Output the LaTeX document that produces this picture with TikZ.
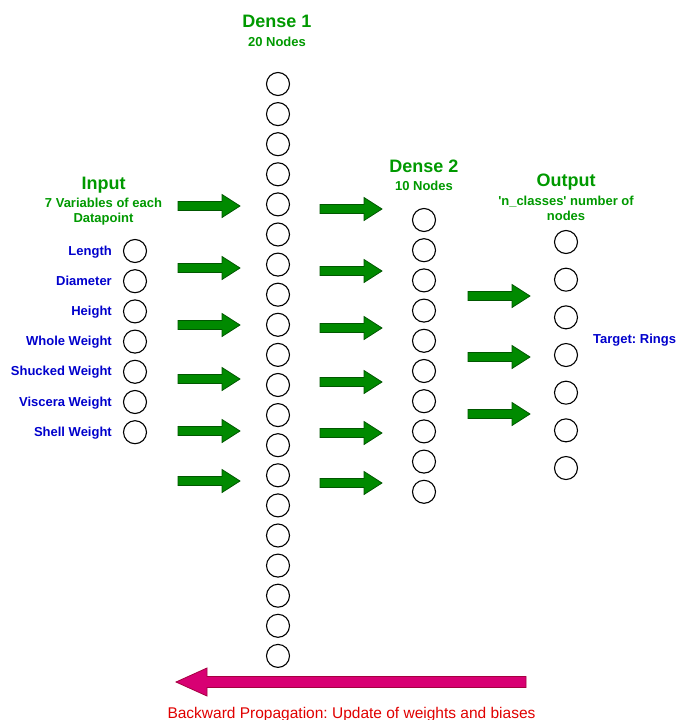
\documentclass[tikz,border=0pt]{standalone}
\usepackage{fontspec}
\setmainfont{Liberation Sans}[Ligatures=TeXOff]
\frenchspacing
\definecolor{tgreen}{HTML}{009900}
\definecolor{agreen}{HTML}{008A00}
\definecolor{adark}{HTML}{005700}
\definecolor{fblue}{HTML}{0000CC}
\definecolor{bred}{HTML}{E00000}
\definecolor{pinkfill}{HTML}{D80073}
\definecolor{pinkdraw}{HTML}{A50040}
\tikzset{
  neuron/.style={circle, draw=black, line width=1.1pt, fill=white, minimum size=23pt, inner sep=0pt},
  ttl/.style={font=\fontsize{18}{20}\selectfont\bfseries, text=tgreen, anchor=base, inner sep=0pt},
  sub/.style={font=\fontsize{13}{15}\selectfont\bfseries, text=tgreen, anchor=base, inner sep=0pt},
  feat/.style={font=\fontsize{13}{15}\selectfont\bfseries, text=fblue, anchor=base east, inner sep=0pt},
  fwd/.style={fill=agreen, draw=adark, line width=0.8pt, line join=miter},
  back/.style={fill=pinkfill, draw=pinkdraw, line width=0.8pt, line join=miter},
  garrow/.pic={\draw[fwd] (0,-4.5) -- (44,-4.5) -- (44,-11.5) -- (62,0) -- (44,11.5) -- (44,4.5) -- (0,4.5) -- cycle;}
}
\begin{document}
\begin{tikzpicture}[x=1pt,y=-1pt]
\useasboundingbox (0,0) rectangle (676,720);

% titles
\node[ttl] (tin) at (103.5,189) {Input};
\node[sub] (tin1) at (103.5,207.7) {7 Variables of each};
\node[sub] (tin2) at (103.5,222.7) {Datapoint};
\node[ttl] (td1) at (277,27.7) {Dense 1};
\node[sub] (td1s) at (277,46.7) {20 Nodes};
\node[ttl] (td2) at (424,172.7) {Dense 2};
\node[sub] (td2s) at (424,190.7) {10 Nodes};
\node[ttl] (tout) at (566,186.7) {Output};
\node[sub] (tout1) at (566,205) {'n\_classes' number of};
\node[sub] (tout2) at (566,220.7) {nodes};

% input layer
\foreach \lab [count=\k from 0] in {Length,Diameter,Height,Whole Weight,Shucked Weight,Viscera Weight,Shell Weight}{
  \pgfmathsetmacro{\yy}{251+30.2*\k}
  \node[neuron] (i\k) at (135,\yy) {};
  \node[feat] (l\k) at (112,\yy+4) {\lab};
}

% dense 1
\foreach \k in {0,...,19}{
  \pgfmathsetmacro{\yy}{84+30.1*\k}
  \node[neuron] (d\k) at (278,\yy) {};
}

% dense 2
\foreach \k in {0,...,9}{
  \pgfmathsetmacro{\yy}{220+30.2*\k}
  \node[neuron] (e\k) at (424,\yy) {};
}

% output
\foreach \k in {0,...,6}{
  \pgfmathsetmacro{\yy}{242+37.67*\k}
  \node[neuron] (o\k) at (566,\yy) {};
}
\node[font=\fontsize{13}{15}\selectfont\bfseries, text=fblue, anchor=base west, inner sep=0pt] (tgt) at (593,343.5) {Target: Rings};

% forward arrows
\foreach \yy in {206,268,325,379,431,481} \pic at (178,\yy) {garrow};
\foreach \yy in {209,271,328,382,433,483} \pic at (320,\yy) {garrow};
\foreach \yy in {296,357,414} \pic at (468,\yy) {garrow};

% backward arrow
\draw[back] (526,676.5) -- (207,676.5) -- (207,668) -- (176,682) -- (207,696) -- (207,687.5) -- (526,687.5) -- cycle;
\node[font=\fontsize{15.5}{17}\selectfont, text=bred, anchor=base, inner sep=0pt] (bp) at (351.5,718.4) {Backward Propagation: Update of weights and biases};
\end{tikzpicture}
\end{document}
